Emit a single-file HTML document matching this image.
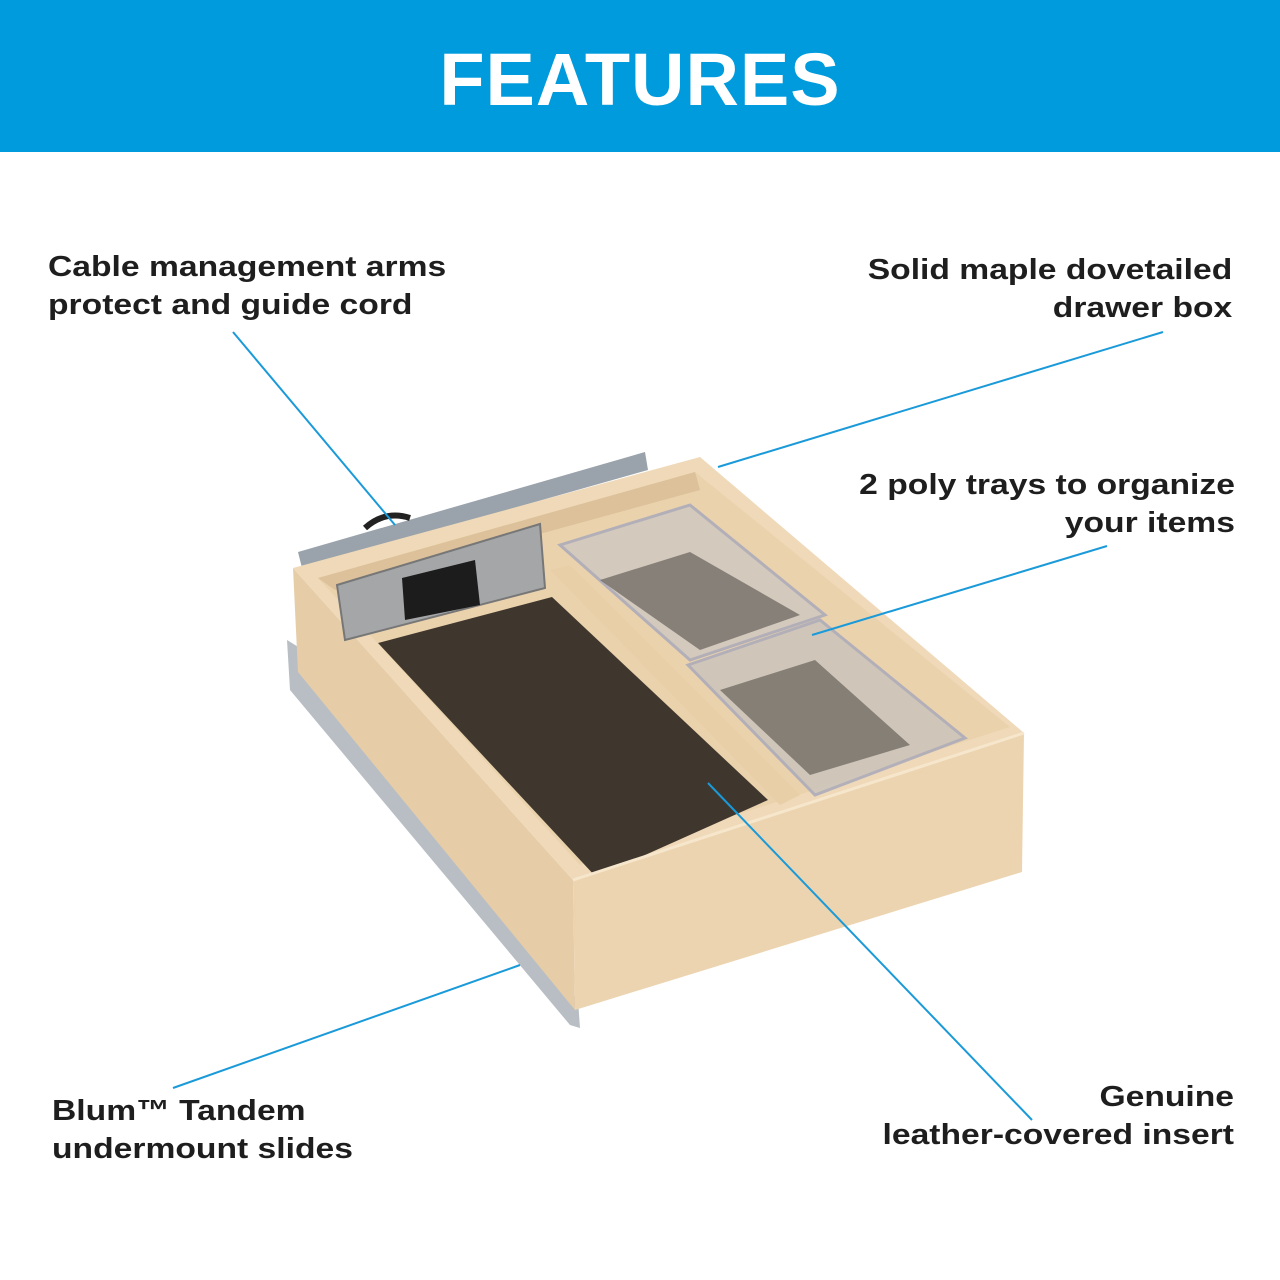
<!DOCTYPE html>
<html><head><meta charset="utf-8"><style>
body{margin:0;width:1280px;height:1280px;background:#fff;position:relative;overflow:hidden;font-family:"Liberation Sans",sans-serif}
.hdr{position:absolute;left:0;top:0;width:1280px;height:152px;background:#009bdc;color:#fff;font-weight:bold;font-size:74px;text-align:center;line-height:160px;letter-spacing:1px}
.l{position:absolute;font-weight:bold;font-size:29px;color:#1e1e1e;line-height:38px;white-space:nowrap;transform:scaleX(1.16);transform-origin:left top}
.r{text-align:right;transform-origin:right top}
</style></head><body>
<div class="hdr">FEATURES</div>
<svg width="1280" height="1280" style="position:absolute;left:0;top:0">
<polygon points="298,552 645,452 648,470 302,568" fill="#9aa3ab"/>
<path d="M365,528 q20,-18 45,-10" stroke="#222" stroke-width="6" fill="none"/>
<polygon points="287,640 300,648 578,1000 580,1028 570,1025 290,690" fill="#b8bec4"/>
<polygon points="1012,810 1022,805 1020,860 995,865" fill="#555"/>
<polygon points="293,568 573,880 575,1010 298,672" fill="#e6cda8"/>
<polygon points="293,568 700,457 1024,733 573,880" fill="#efd9b8"/>
<polygon points="318,578 695,472 1010,727 580,865" fill="#ead2ad"/>
<polygon points="318,578 695,472 700,490 335,590" fill="#dcc19a"/>
<polygon points="378,643 552,597 768,800 596,877" fill="#3f372e"/>
<polygon points="550,570 570,565 800,795 780,805" fill="#e9cfa8"/>
<polygon points="560,545 690,505 825,615 690,660" fill="#cfc8c0" stroke="#aab" stroke-width="3" opacity="0.85"/>
<polygon points="688,665 820,620 965,738 815,795" fill="#cbc4bc" stroke="#aab" stroke-width="3" opacity="0.85"/>
<polygon points="600,580 690,552 800,615 700,650" fill="#55504a" opacity="0.6"/>
<polygon points="720,690 815,660 910,745 810,775" fill="#55504a" opacity="0.6"/>
<polygon points="337,585 540,524 545,588 345,640" fill="#a4a6a8" stroke="#777" stroke-width="2"/>
<polygon points="402,578 475,560 480,605 405,620" fill="#1c1c1c"/>
<polygon points="573,880 1024,733 1022,872 575,1010" fill="#ecd4b0"/>
<line x1="573" y1="880" x2="1024" y2="733" stroke="#f6e6cc" stroke-width="3"/>
<g stroke="#1a9ad8" stroke-width="2">
<line x1="233" y1="332" x2="395" y2="525"/>
<line x1="1163" y1="332" x2="718" y2="467"/>
<line x1="1107" y1="546" x2="812" y2="635"/>
<line x1="173" y1="1088" x2="520" y2="965"/>
<line x1="1032" y1="1120" x2="708" y2="783"/>
</g>
</svg>
<div class="l" style="left:48px;top:248px">Cable management arms<br>protect and guide cord</div>
<div class="l r" style="right:48px;top:251px">Solid maple dovetailed<br>drawer box</div>
<div class="l r" style="right:45px;top:466px">2 poly trays to organize<br>your items</div>
<div class="l" style="left:52px;top:1092px">Blum™ Tandem<br>undermount slides</div>
<div class="l r" style="right:46px;top:1078px">Genuine<br>leather-covered insert</div>
</body></html>
